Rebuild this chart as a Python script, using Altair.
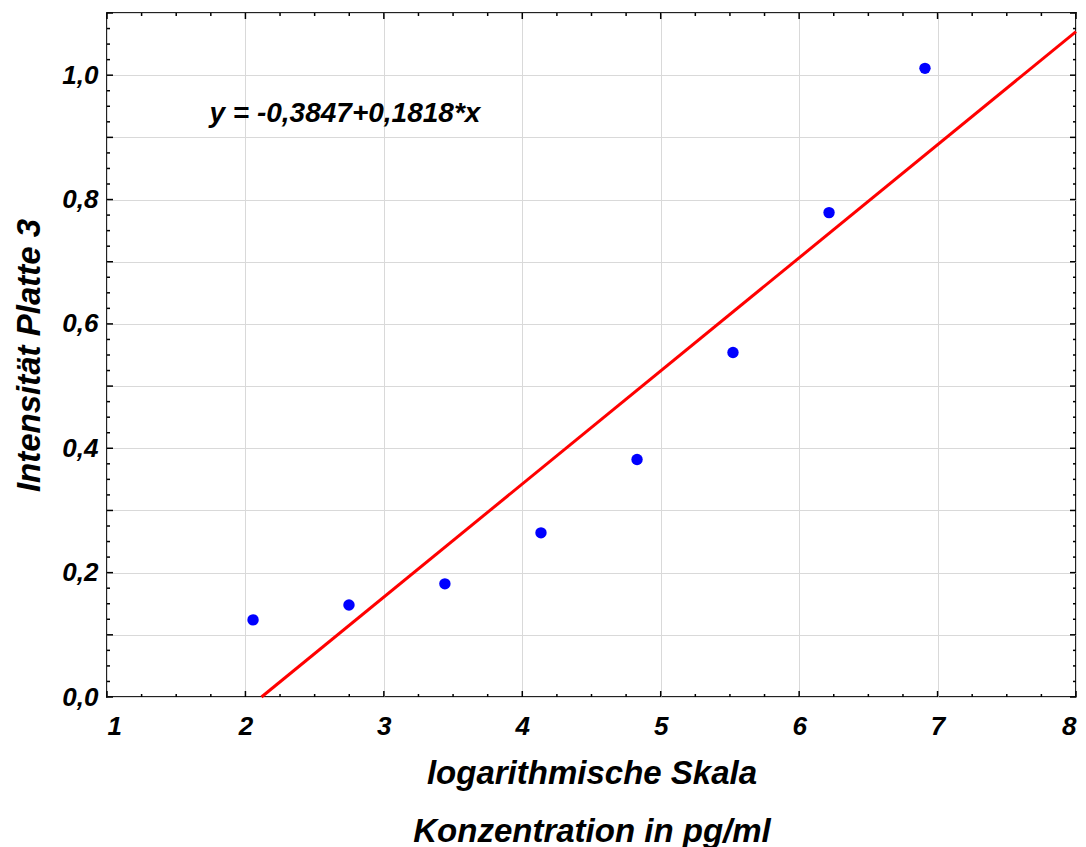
import altair as alt
import pandas as pd

# Data
x_vals = [2.055, 2.748, 3.441, 4.135, 4.829, 5.522, 6.216, 6.909]
y_vals = [0.124, 0.148, 0.182, 0.264, 0.382, 0.554, 0.779, 1.011]

# regression line endpoints (y = -0.3847 + 0.1818*x)
line_x = [2.116, 8.0]
line_y = [0.0, 1.070]

equation = "y = -0,3847+0,1818*x"
eq_x = [1.74]
eq_y = [0.937]

x_ticks = [1, 2, 3, 4, 5, 6, 7, 8]
y_grid = [round(i * 0.1, 1) for i in range(12)]
x_minor = [1 + i * 0.25 for i in range(29)]
y_minor = [round(i * 0.025, 3) for i in range(45)]

W, H = 969, 684
FONT = "Liberation Sans"

pts = pd.DataFrame({"x": x_vals, "y": y_vals})
ln = pd.DataFrame({"x": line_x, "y": line_y})
eq = pd.DataFrame({"x": eq_x, "y": eq_y, "t": [equation]})

xscale = alt.Scale(domain=[1, 8], nice=False, zero=False)
yscale = alt.Scale(domain=[0, 1.1], nice=False, zero=False)

x_axis = alt.Axis(
    values=x_ticks, grid=True, gridColor="#d9d9d9", gridWidth=1,
    ticks=False, domain=False, labelFontSize=26, labelFont=FONT,
    labelFontStyle="italic", labelFontWeight="bold", labelColor="#000",
    labelPadding=16, format="d",
    title=["logarithmische Skala", "Konzentration in pg/ml"],
    titleFontSize=33, titleFont=FONT, titleFontStyle="italic",
    titleFontWeight="bold", titleColor="#000", titlePadding=18,
    titleLineHeight=58,
)
y_axis = alt.Axis(
    values=y_grid, grid=True, gridColor="#d9d9d9", gridWidth=1,
    ticks=False, domain=False, labelFontSize=26, labelFont=FONT,
    labelFontStyle="italic", labelFontWeight="bold", labelColor="#000",
    labelPadding=9,
    labelExpr="round(datum.value*10) % 2 == 0 ? replace(format(datum.value, '.1f'), '.', ',') : ''",
    title="Intensität Platte 3",
    titleFontSize=33, titleFont=FONT, titleFontStyle="italic",
    titleFontWeight="bold", titleColor="#000", titlePadding=15,
)

base_pts = alt.Chart(pts).mark_circle(color="#0000ff", opacity=1, size=130).encode(
    x=alt.X("x:Q", scale=xscale, axis=x_axis),
    y=alt.Y("y:Q", scale=yscale, axis=y_axis),
)

line = alt.Chart(ln).mark_line(color="#ff0000", strokeWidth=3).encode(
    x=alt.X("x:Q", scale=xscale),
    y=alt.Y("y:Q", scale=yscale),
)

text = alt.Chart(eq).mark_text(
    align="left", baseline="middle", font=FONT, fontSize=28,
    fontStyle="italic", fontWeight="bold", color="#000"
).encode(
    x=alt.X("x:Q", scale=xscale),
    y=alt.Y("y:Q", scale=yscale),
    text="t:N",
)

xt = pd.DataFrame({"x": x_minor, "len": [6 if abs(v - round(v)) < 1e-9 else 3 for v in x_minor]})
yt = pd.DataFrame({"y": y_minor, "len": [6 if abs(v * 10 - round(v * 10)) < 1e-9 else 3 for v in y_minor]})

tick_style = dict(color="#000", strokeWidth=1.5)
bottom_minor = alt.Chart(xt[xt["len"] == 3]).mark_rule(**tick_style).encode(
    x=alt.X("x:Q", scale=xscale), y=alt.value(H), y2=alt.value(H - 3))
bottom_major = alt.Chart(xt[xt["len"] == 6]).mark_rule(**tick_style).encode(
    x=alt.X("x:Q", scale=xscale), y=alt.value(H), y2=alt.value(H - 6))
top_minor = alt.Chart(xt[xt["len"] == 3]).mark_rule(**tick_style).encode(
    x=alt.X("x:Q", scale=xscale), y=alt.value(0), y2=alt.value(3))
top_major = alt.Chart(xt[xt["len"] == 6]).mark_rule(**tick_style).encode(
    x=alt.X("x:Q", scale=xscale), y=alt.value(0), y2=alt.value(6))
left_minor = alt.Chart(yt[yt["len"] == 3]).mark_rule(**tick_style).encode(
    y=alt.Y("y:Q", scale=yscale), x=alt.value(0), x2=alt.value(3))
left_major = alt.Chart(yt[yt["len"] == 6]).mark_rule(**tick_style).encode(
    y=alt.Y("y:Q", scale=yscale), x=alt.value(0), x2=alt.value(6))
right_minor = alt.Chart(yt[yt["len"] == 3]).mark_rule(**tick_style).encode(
    y=alt.Y("y:Q", scale=yscale), x=alt.value(W), x2=alt.value(W - 3))
right_major = alt.Chart(yt[yt["len"] == 6]).mark_rule(**tick_style).encode(
    y=alt.Y("y:Q", scale=yscale), x=alt.value(W), x2=alt.value(W - 6))

chart = alt.layer(
    base_pts, line, text,
    bottom_minor, bottom_major, top_minor, top_major,
    left_minor, left_major, right_minor, right_major,
).properties(
    width=W, height=H,
    autosize=alt.AutoSizeParams(type="none"),
    padding={"left": 99, "top": 5, "right": 2, "bottom": 150},
    background="white",
).configure_view(
    stroke="#222", strokeWidth=2
)

chart.save("out.html", embed_options={"renderer": "svg", "actions": False})
